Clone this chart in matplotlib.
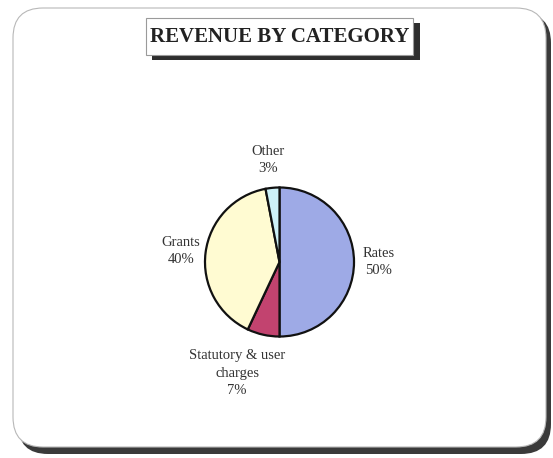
import matplotlib
matplotlib.use("Agg")
import matplotlib.pyplot as plt
from matplotlib.patches import FancyBboxPatch, Rectangle

title = "REVENUE BY CATEGORY"
categories = ["Rates", "Statutory & user\ncharges", "Grants", "Other"]
values = [50, 7, 40, 3]
colors = ["#9eaae6", "#c2436f", "#fffbd2", "#cdf1f7"]

W, H = 553, 458
fig = plt.figure(figsize=(W / 100, H / 100), dpi=100)
fig.patch.set_facecolor("white")

# overlay axes in pixel coordinates
bg = fig.add_axes([0, 0, 1, 1])
bg.set_xlim(0, W)
bg.set_ylim(H, 0)
bg.axis("off")

# outer rounded frame with shadow
shadow = FancyBboxPatch((18, 13), 533, 441, boxstyle="round,pad=0,rounding_size=30",
                        facecolor="#3a3a3a", edgecolor="none", zorder=0)
bg.add_patch(shadow)
frame = FancyBboxPatch((13, 8), 533, 439, boxstyle="round,pad=0,rounding_size=30",
                       facecolor="white", edgecolor="#b8b8b8", linewidth=0.8, zorder=1)
bg.add_patch(frame)

# title box with shadow
bg.add_patch(Rectangle((152, 23), 268, 37, facecolor="#2e2e2e", edgecolor="none", zorder=2))
bg.add_patch(Rectangle((146, 18), 267, 37, facecolor="white", edgecolor="#9a9a9a",
                       linewidth=0.8, zorder=3))
bg.text(279.5, 37, title, ha="center", va="center", fontsize=15, fontweight="bold",
        family="Liberation Serif", color="#222222", zorder=4)

# pie
cx, cy, r = 279.5, 262, 76
pie_ax = fig.add_axes([(cx - r) / W, 1 - (cy + r) / H, 2 * r / W, 2 * r / H])
wedges, _ = pie_ax.pie(values, colors=colors, startangle=90, counterclock=False,
                       wedgeprops=dict(edgecolor="#111111", linewidth=1.6))
pie_ax.set_xlim(-1.02, 1.02)
pie_ax.set_ylim(-1.02, 1.02)
pie_ax.set_aspect("equal")

label_pos = [(379, 262), (237, 373), (181, 251), (268, 160)]
for name, v, (lx, ly) in zip(categories, values, label_pos):
    bg.text(lx, ly, f"{name}\n{v}%", ha="center", va="center", fontsize=10.5,
            family="Liberation Serif", color="#333333", linespacing=1.4, zorder=5)

fig.savefig("out.png", dpi=100, facecolor="white")
